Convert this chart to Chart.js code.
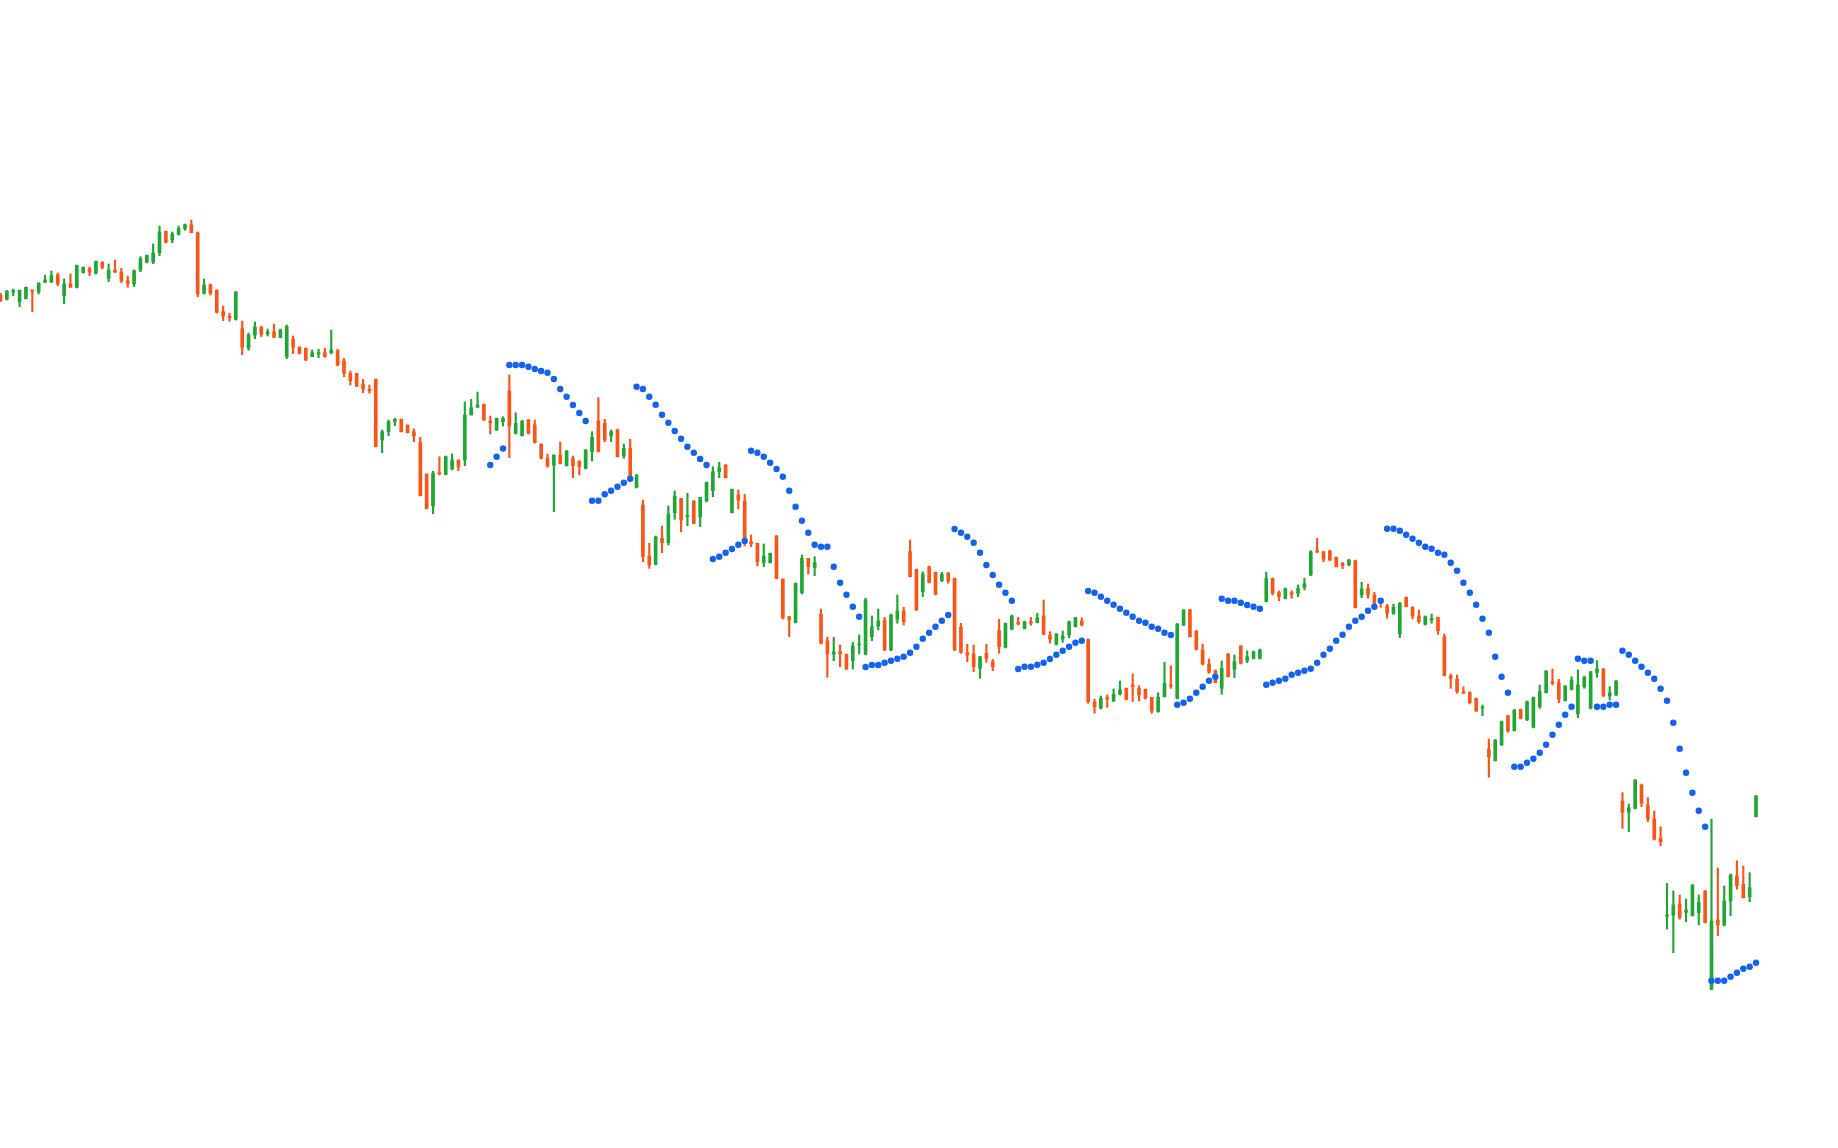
<!DOCTYPE html>
<html>
<head>
<meta charset="utf-8">
<script src="https://cdn.jsdelivr.net/npm/chart.js@4"></script>
<style>
  html, body { margin: 0; padding: 0; background: #ffffff; }
  canvas { display: block; }
</style>
</head>
<body>
<canvas id="price-chart" width="1838" height="1148"></canvas>
<script>
"use strict";
const open = [
  80.50,80.07,80.80,79.83,80.13,81.00,80.80,81.77,81.77,82.50,80.43,81.60,81.27,82.73,83.13,82.67,83.77,82.17,83.00,82.80,
  81.93,81.60,83.00,83.77,83.80,84.73,86.87,86.00,86.57,87.13,87.53,86.73,80.67,81.53,81.00,78.83,78.40,78.07,77.13,75.17,
  76.50,77.27,76.60,76.83,76.27,74.33,76.10,75.30,75.17,74.33,74.60,74.73,74.73,74.93,73.90,72.67,72.67,71.57,71.07,72.07,
  66.00,66.83,67.83,68.07,67.50,66.83,65.73,62.60,59.43,62.73,62.57,63.10,64.00,64.00,68.50,69.27,69.57,67.90,67.00,67.83,
  70.90,66.67,66.43,68.00,67.50,65.60,64.17,63.50,64.50,63.43,64.17,63.90,63.17,64.83,67.90,67.67,66.40,67.00,64.40,65.17,
  61.27,59.50,54.40,53.57,56.17,55.73,58.73,60.17,58.33,59.90,58.33,59.90,60.93,62.83,63.50,58.73,60.50,59.90,55.83,55.67,
  53.73,53.73,56.40,52.10,48.33,47.73,50.73,54.17,53.23,48.57,45.93,44.60,44.83,44.57,43.93,45.50,44.60,46.33,47.40,48.00,
  45.00,48.07,48.90,54.83,53.07,50.83,53.33,52.77,51.93,52.67,52.17,47.27,44.73,44.60,43.17,44.67,43.83,46.93,45.27,47.10,
  47.77,47.17,47.83,47.73,48.40,46.50,45.57,46.10,46.50,47.33,47.90,46.07,39.80,39.20,40.23,39.90,40.60,41.17,41.50,41.17,
  41.07,40.27,38.83,40.33,41.50,40.17,47.50,49.00,46.90,45.00,43.60,42.93,41.17,44.60,43.07,45.40,43.93,44.17,44.17,49.83,
  52.17,50.73,50.17,50.73,50.67,51.27,52.50,54.93,54.83,54.93,54.27,53.67,53.50,53.93,50.50,51.17,50.50,50.00,49.40,48.67,
  46.60,50.27,49.27,48.40,47.57,48.00,48.27,46.33,42.43,42.07,40.83,40.73,40.17,39.20,35.10,33.93,35.50,38.43,36.93,39.07,
  38.00,37.27,39.33,40.73,41.83,41.73,39.93,41.07,38.60,41.33,39.17,42.73,43.10,40.40,40.50,29.90,28.77,29.17,31.50,29.50,
  28.10,26.17,18.40,18.50,19.60,18.77,18.43,18.73,20.90,11.07,18.00,17.50,19.90,22.40,21.57,20.33,28.33
];
const high = [
  80.67,80.95,81.10,81.00,81.30,81.00,81.70,82.50,82.90,82.70,82.10,82.60,83.50,83.30,83.30,83.90,83.83,83.60,84.00,83.17,
  82.40,83.00,84.33,84.50,85.60,87.40,86.90,86.80,87.40,87.60,88.00,86.80,82.10,81.60,81.00,79.40,78.67,80.85,77.90,76.70,
  77.80,77.40,77.10,77.60,77.10,77.50,76.40,75.30,75.20,75.00,75.07,75.17,77.00,75.07,74.17,72.90,72.67,72.07,71.50,72.10,
  67.00,68.00,68.17,68.10,67.50,67.10,66.27,62.60,62.87,64.33,64.40,64.60,64.00,69.80,70.07,70.80,69.60,68.40,68.20,68.33,
  72.50,68.73,67.95,68.05,68.00,65.60,64.60,64.50,65.80,64.95,64.40,63.90,65.05,66.83,70.23,68.07,67.00,67.10,65.60,66.07,
  62.55,60.00,55.67,56.40,57.40,59.40,60.90,60.17,60.67,59.95,60.27,61.80,63.33,63.77,63.55,61.10,61.00,60.57,56.50,55.70,
  55.60,54.70,56.45,52.10,48.35,51.70,54.50,54.17,54.33,49.10,46.27,46.27,45.50,44.60,45.77,46.50,50.17,48.40,49.10,48.27,
  48.60,50.50,49.27,56.00,53.10,52.83,53.40,52.80,52.77,52.77,52.20,47.67,45.57,45.50,44.35,45.57,44.07,48.07,47.70,48.50,
  48.27,47.90,48.27,48.67,50.00,46.83,46.65,46.90,47.90,48.27,48.23,46.10,40.10,40.40,40.50,41.10,41.90,41.20,42.60,41.43,
  41.10,40.27,40.73,43.77,43.43,47.65,49.05,49.07,46.95,45.60,44.10,43.00,43.90,44.65,44.50,45.45,44.90,44.90,45.10,52.80,
  52.20,50.90,51.20,50.93,51.50,52.17,54.93,56.17,54.85,54.95,54.30,53.77,54.07,54.00,51.77,51.60,50.77,50.17,49.57,49.57,
  49.77,50.30,49.33,49.00,48.40,48.60,48.30,46.60,42.60,42.50,41.33,40.83,40.20,39.50,36.10,36.05,37.90,38.45,39.05,39.10,
  39.90,40.30,41.50,42.95,43.10,42.07,41.45,42.33,43.00,42.40,42.85,43.93,43.15,41.33,41.95,30.73,29.60,32.05,31.60,30.23,
  28.90,27.33,21.67,20.90,20.50,20.10,21.55,20.50,20.95,28.10,23.20,21.40,22.60,23.93,23.40,22.73,30.45
];
const low = [
  79.83,80.00,80.43,79.33,80.10,78.83,80.60,81.73,81.77,81.43,79.63,81.27,81.20,82.70,82.43,82.60,83.10,81.83,82.77,81.73,
  81.27,81.33,82.83,83.70,83.63,84.43,85.70,85.73,86.50,86.97,86.73,80.33,80.60,80.50,78.70,77.93,77.87,78.00,74.53,74.97,
  76.13,76.33,76.40,76.27,76.20,74.13,74.63,74.60,73.93,74.33,74.23,74.27,74.60,73.40,72.33,71.50,71.33,70.73,70.67,65.30,
  64.73,66.43,67.43,66.80,66.70,65.83,60.40,59.10,58.63,62.50,62.50,63.00,62.93,63.43,68.50,69.27,67.97,66.60,66.95,67.40,
  64.23,66.60,66.40,66.60,65.70,64.10,63.27,58.83,63.60,63.40,62.23,62.50,63.10,63.90,64.80,65.83,65.83,64.30,64.17,61.83,
  61.20,53.83,53.17,53.50,54.73,55.50,58.07,56.83,57.43,57.60,57.33,59.80,60.33,62.23,62.20,58.70,59.10,55.40,55.33,53.40,
  53.33,53.70,52.10,48.10,46.33,47.70,50.60,52.60,52.43,45.60,42.27,43.93,43.33,43.05,43.10,44.60,44.50,45.93,47.00,44.93,
  44.93,47.67,47.50,52.30,48.95,50.33,51.70,50.50,51.83,51.67,44.95,44.67,43.83,42.83,42.17,43.77,42.93,44.67,45.20,47.00,
  47.50,47.10,47.47,47.70,46.55,45.67,45.50,45.77,46.23,47.30,47.40,39.67,38.67,39.10,39.27,39.83,40.50,40.00,39.83,39.90,
  40.10,38.67,38.77,40.30,41.17,40.10,47.45,46.30,45.00,43.50,42.67,41.73,40.57,42.30,42.23,43.60,43.73,44.10,44.10,49.80,
  50.50,49.93,50.10,50.17,50.33,51.00,52.43,54.75,53.83,53.95,53.30,53.13,53.43,49.20,50.23,50.17,49.50,49.27,48.17,48.57,
  46.23,49.30,48.10,47.67,47.50,47.67,46.57,42.40,41.17,40.67,40.65,39.60,38.85,38.43,32.27,33.90,35.45,36.77,36.90,38.10,
  37.95,37.20,39.17,40.70,41.50,39.73,39.90,41.00,38.23,41.17,39.10,42.27,40.35,40.00,40.45,27.17,26.83,29.10,29.33,27.83,
  26.00,25.43,17.10,14.73,18.07,17.83,18.40,17.50,17.70,11.05,16.43,17.40,18.43,21.07,20.20,19.83,28.30
];
const close = [
  79.93,80.90,80.97,80.97,81.27,80.87,81.70,82.00,82.43,81.60,81.60,81.27,83.47,83.27,82.80,83.87,83.27,83.00,82.77,81.93,
  81.67,82.93,84.13,84.47,84.70,86.80,85.77,86.60,87.17,87.53,86.73,80.60,81.50,80.67,78.77,78.40,78.23,80.80,75.27,76.50,
  77.30,76.57,76.83,76.27,77.00,77.33,75.27,74.63,74.00,74.73,74.73,74.33,75.00,73.50,72.67,71.93,71.40,71.10,70.93,65.33,
  66.83,67.83,68.07,66.83,66.73,66.40,60.43,59.13,62.67,62.60,64.33,64.00,63.33,68.50,69.23,69.50,68.00,67.73,68.17,68.17,
  67.40,67.67,67.90,66.67,65.73,64.17,63.40,64.50,63.67,64.90,63.43,63.33,65.00,66.27,64.83,66.00,66.83,64.33,65.17,62.00,
  62.50,54.33,53.50,56.33,55.73,58.60,60.40,58.00,58.40,57.67,60.27,61.77,62.83,63.23,62.23,61.07,60.00,55.67,55.60,53.83,
  54.40,54.67,52.17,48.17,48.00,51.67,54.17,53.33,53.73,45.67,44.60,44.83,44.60,43.10,45.40,45.57,50.00,47.33,47.90,45.00,
  48.50,48.90,47.83,52.33,49.00,52.60,51.77,50.57,52.57,51.90,45.00,44.77,44.50,43.33,44.33,44.17,43.33,45.33,47.67,48.40,
  47.60,47.83,47.67,48.23,46.57,46.10,46.60,46.40,47.80,48.23,47.50,39.83,39.33,40.17,40.07,40.57,41.00,40.07,41.33,40.50,
  40.17,38.90,40.27,41.67,41.40,47.60,49.00,46.33,45.07,43.60,42.77,41.73,43.17,42.33,43.83,43.67,44.33,44.83,45.00,52.17,
  50.67,50.33,51.13,50.57,51.17,51.60,54.83,54.77,54.07,54.00,53.33,53.43,54.00,49.23,51.10,50.50,49.57,49.67,48.67,49.27,
  49.67,49.33,48.40,47.83,48.33,48.17,46.93,42.43,42.17,40.83,40.67,39.73,38.90,39.23,34.33,36.00,37.83,36.90,39.00,38.17,
  39.83,40.27,40.83,42.90,41.67,40.07,41.40,42.00,41.50,42.27,42.83,43.10,40.40,40.73,41.90,28.77,29.23,32.00,29.67,28.10,
  26.07,25.83,18.50,19.50,18.27,19.00,21.50,19.73,17.73,17.90,17.50,19.90,22.50,21.43,20.23,21.23,30.40
];
// parabolic SAR, one value per session, none before the first dot
const sar = [
  null,null,null,null,null,null,null,null,null,null,null,null,null,null,null,null,null,null,null,null,
  null,null,null,null,null,null,null,null,null,null,null,null,null,null,null,null,null,null,null,null,
  null,null,null,null,null,null,null,null,null,null,null,null,null,null,null,null,null,null,null,null,
  null,null,null,null,null,null,null,null,null,null,null,null,null,null,null,null,null,63.50,64.33,65.15,
  73.50,73.50,73.50,73.33,73.10,72.90,72.73,72.10,71.10,70.33,69.50,68.70,67.90,59.93,59.93,60.57,60.93,61.33,61.73,62.13,
  71.33,71.10,70.33,69.53,68.53,67.73,66.90,66.13,65.33,64.73,64.10,63.50,54.10,54.33,54.73,55.10,55.53,55.90,64.93,64.73,
  64.33,63.73,63.10,62.33,60.93,59.33,57.93,56.73,55.53,55.33,55.33,53.33,51.73,50.53,49.33,48.33,43.30,43.50,43.50,43.73,
  43.93,44.13,44.33,44.73,45.33,46.13,46.73,47.33,47.93,48.50,57.10,56.73,56.33,55.73,54.73,53.50,52.50,51.53,50.73,49.93,
  43.10,43.33,43.33,43.53,43.73,44.10,44.53,44.93,45.33,45.73,45.93,50.90,50.73,50.33,49.93,49.53,49.13,48.73,48.33,47.93,
  47.73,47.33,47.13,46.73,46.50,39.53,39.73,40.13,40.73,41.33,41.93,42.33,50.13,49.93,49.93,49.73,49.50,49.33,49.13,41.53,
  41.73,41.93,42.13,42.53,42.73,42.93,43.13,43.73,44.53,45.13,45.93,46.53,47.33,47.93,48.33,48.93,49.33,49.93,57.13,57.13,
  56.93,56.53,56.13,55.73,55.33,55.13,54.73,54.53,53.73,52.93,51.73,50.73,49.53,48.13,46.73,44.33,42.33,40.73,33.33,33.33,
  33.73,34.13,34.73,35.53,36.53,37.53,38.53,39.33,44.13,43.93,43.93,39.33,39.33,39.53,39.53,44.93,44.53,43.93,43.33,42.73,
  42.13,41.13,39.93,37.73,35.13,32.73,30.73,28.93,27.33,11.93,11.93,11.93,12.33,12.73,13.13,13.33,13.73
];
const days = open.map((v, i) => i);

const UP = '#1fa633';
const DOWN = '#fb5516';
const DOT = '#1463ee';

const candleColor = (ctx) => close[ctx.dataIndex] >= open[ctx.dataIndex] ? UP : DOWN;

const ctx = document.getElementById('price-chart');
new Chart(ctx, {
    data: {
        labels: days,
        datasets: [
            {
                type: 'line',
                label: 'SAR',
                data: sar,
                showLine: false,
                pointRadius: 3.2,
                pointBorderWidth: 0,
                pointBackgroundColor: DOT,
                order: 0
            },
            {
                type: 'bar',
                label: 'body',
                data: open.map((o, i) => [o, close[i]]),
                backgroundColor: candleColor,
                barThickness: 3,
                minBarLength: 1,
                grouped: false,
                order: 1
            },
            {
                type: 'bar',
                label: 'wick',
                data: low.map((l, i) => [l, high[i]]),
                backgroundColor: candleColor,
                barThickness: 1.5,
                grouped: false,
                order: 2
            }
        ]
    },
    options: {
        responsive: false,
        animation: false,
        devicePixelRatio: 1,
        layout: { padding: 0, autoPadding: false },
        scales: {
            x: { type: 'linear', display: false, offset: false, min: -0.08, max: 288.89 },
            y: { display: false, min: -4.8, max: 110 }
        },
        plugins: {
            legend: { display: false },
            tooltip: { enabled: false }
        }
    }
});
</script>
</body>
</html>
